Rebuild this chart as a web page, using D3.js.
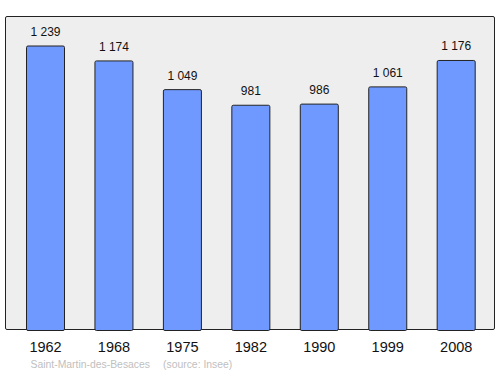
<!DOCTYPE html>
<html><head><meta charset="utf-8">
<script src="https://cdn.jsdelivr.net/npm/d3@7"></script>
<style>body{margin:0;background:#fff}svg{display:block}</style>
</head><body>
<svg id="c" width="500" height="374"></svg>
<script>
const years = ["1962","1968","1975","1982","1990","1999","2008"];
const population = [1239, 1174, 1049, 981, 986, 1061, 1176];
const valueLabels = ["1 239","1 174","1 049","981","986","1 061","1 176"];
const footerName = "Saint-Martin-des-Besaces";
const footerSource = "(source: Insee)";

const svg = d3.select("#c");
const font = "'Liberation Sans', Arial, sans-serif";

svg.append("rect").attr("x",5.5).attr("y",16.5).attr("width",489).attr("height",313)
  .attr("rx",1.5).attr("fill","#eeeeee").attr("stroke","#222").attr("stroke-width",1);

const x = d3.scaleBand().domain(years).range([26, 475.7]).paddingInner(0.43).paddingOuter(0);
const y = d3.scaleLinear().domain([0, 1367.5]).range([330, 16]);

svg.selectAll("rect.bar").data(population).enter().append("rect").attr("class","bar")
  .attr("x",(d,i)=>x(years[i])+0.5).attr("y",d=>y(d)+0.5)
  .attr("width",x.bandwidth()-1).attr("height",d=>y(0)-y(d))
  .attr("rx",1.5).attr("fill","#7099ff").attr("stroke","#222").attr("stroke-width",1);

svg.selectAll("text.val").data(population).enter().append("text").attr("class","val")
  .attr("x",(d,i)=>x(years[i])+x.bandwidth()/2).attr("y",d=>y(d)-9.5)
  .attr("text-anchor","middle").attr("font-family",font).attr("font-size",12).attr("fill","#111")
  .text((d,i)=>valueLabels[i]);

const ax = svg.append("g").attr("transform","translate(0,330)")
  .call(d3.axisBottom(x).tickSize(0).tickPadding(0));
ax.select(".domain").remove();
ax.selectAll("text").attr("y",22).attr("dy",0).attr("font-family",font).attr("font-size",14.5).attr("fill","#111");

svg.append("text").attr("x",30.5).attr("y",368).attr("font-family",font).attr("font-size",10.4)
  .attr("fill","#c0c0c0").text(footerName);
svg.append("text").attr("x",163).attr("y",368).attr("font-family",font).attr("font-size",10.4)
  .attr("fill","#c0c0c0").text(footerSource);
</script>
</body></html>
